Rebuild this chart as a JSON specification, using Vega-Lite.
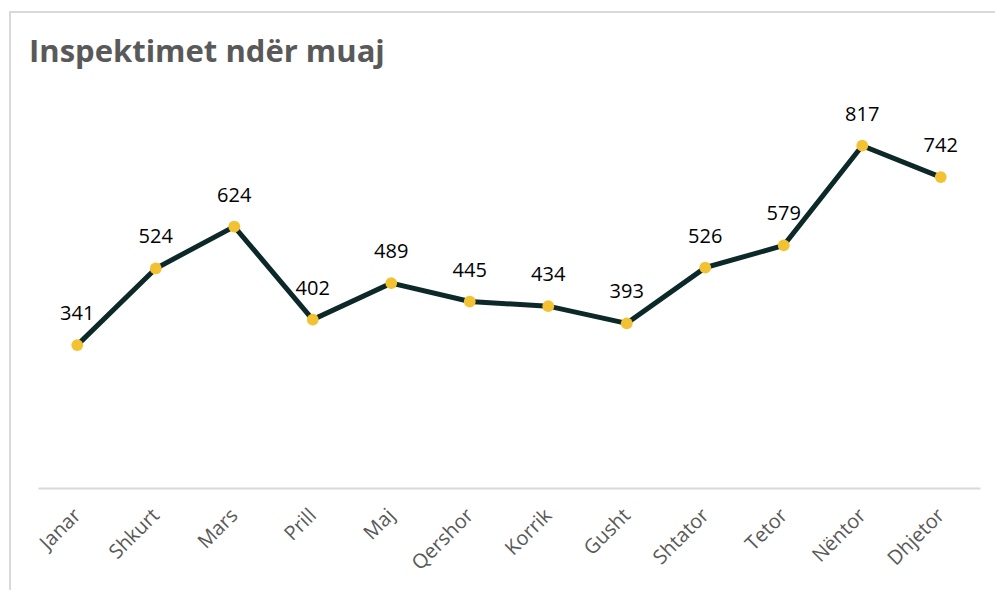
{
  "$schema": "https://vega.github.io/schema/vega-lite/v6.json",
  "autosize": "none",
  "width": 990,
  "height": 585,
  "padding": {"left": 10, "top": 12, "right": 0, "bottom": 0},
  "background": "#ffffff",
  "config": {
    "view": {"stroke": "#d9d9d9", "strokeWidth": 2},
    "font": "Open Sans"
  },
  "title": {
    "text": "Inspektimet ndër muaj",
    "anchor": "start",
    "orient": "top",
    "frame": "group",
    "offset": -57,
    "dx": 19,
    "font": "Open Sans",
    "fontSize": 31,
    "fontWeight": "bold",
    "color": "#595959"
  },
  "data": {
    "values": [
      {"muaji": "Janar", "inspektime": 341},
      {"muaji": "Shkurt", "inspektime": 524},
      {"muaji": "Mars", "inspektime": 624},
      {"muaji": "Prill", "inspektime": 402},
      {"muaji": "Maj", "inspektime": 489},
      {"muaji": "Qershor", "inspektime": 445},
      {"muaji": "Korrik", "inspektime": 434},
      {"muaji": "Gusht", "inspektime": 393},
      {"muaji": "Shtator", "inspektime": 526},
      {"muaji": "Tetor", "inspektime": 579},
      {"muaji": "Nëntor", "inspektime": 817},
      {"muaji": "Dhjetor", "inspektime": 742}
    ]
  },
  "encoding": {
    "x": {
      "field": "muaji",
      "type": "ordinal",
      "sort": null,
      "scale": {"type": "point", "padding": 0.5, "range": [28, 970]},
      "axis": {
        "title": null,
        "offset": -109,
        "domainColor": "#d9d9d9",
        "domainWidth": 2,
        "ticks": false,
        "labelAngle": -45,
        "labelAlign": "right",
        "labelBaseline": "middle",
        "labelPadding": 24,
        "labelFont": "Open Sans",
        "labelFontSize": 20,
        "labelColor": "#595959"
      }
    },
    "y": {
      "field": "inspektime",
      "type": "quantitative",
      "scale": {"domain": [0, 1000], "range": [476, 57]},
      "axis": null
    }
  },
  "layer": [
    {"mark": {"type": "line", "color": "#0d2828", "strokeWidth": 5}},
    {"mark": {"type": "circle", "color": "#f2c233", "opacity": 1, "size": 140}},
    {
      "mark": {"type": "text", "baseline": "alphabetic", "dy": -25, "font": "Open Sans", "fontSize": 20, "color": "#000000"},
      "encoding": {"text": {"field": "inspektime", "type": "quantitative"}}
    }
  ]
}
